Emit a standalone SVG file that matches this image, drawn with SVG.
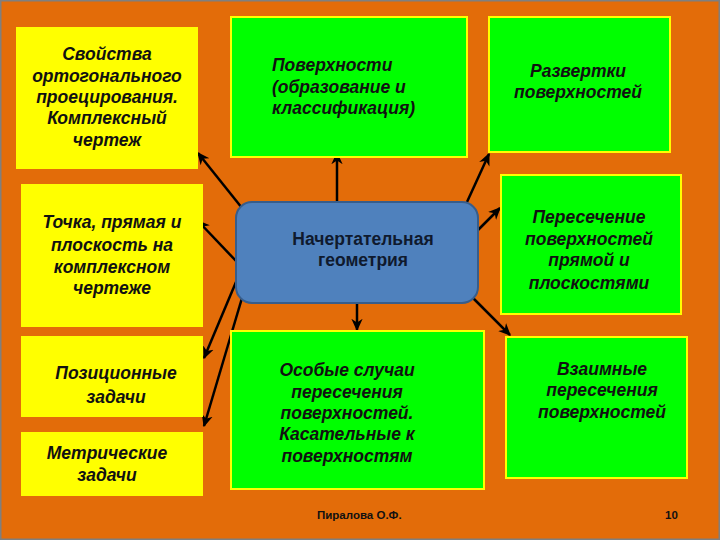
<svg xmlns="http://www.w3.org/2000/svg" width="720" height="540" viewBox="0 0 720 540">
<defs>
<marker id="ah" viewBox="0 0 10 10" refX="9" refY="5" markerWidth="5" markerHeight="5" orient="auto" markerUnits="strokeWidth">
<path d="M0,0.5 L10,5 L0,9.5 L3,5 Z" fill="#000"/>
</marker>
<style>
.y{fill:#FFFF00}
.g{fill:#00FF00;stroke:#FFFF00;stroke-width:2}
.t{font-family:"Liberation Sans",Arial,sans-serif;font-weight:bold;font-style:italic;font-size:17.5px;fill:#111;text-anchor:middle}
.ts{text-anchor:start}
.c{font-family:"Liberation Sans",Arial,sans-serif;font-weight:bold;font-size:17.5px;fill:#0f1a2e;text-anchor:middle}
.f{font-family:"Liberation Sans",Arial,sans-serif;font-weight:bold;font-size:11.5px;fill:#111}
.a{stroke:#000;stroke-width:2.5;fill:none;marker-end:url(#ah)}
</style>
</defs>
<rect x="0" y="0" width="720" height="540" fill="#E36C09"/>
<rect x="0.75" y="0.75" width="718.5" height="538.5" fill="none" stroke="#7f7f7f" stroke-width="1.5"/>

<g id="connectors">
<line class="a" x1="242" y1="208" x2="198" y2="153"/>
<line class="a" x1="237" y1="262" x2="198" y2="221"/>
<line class="a" x1="236" y1="282" x2="204" y2="358"/>
<line class="a" x1="242" y1="298" x2="204" y2="426"/>
<line class="a" x1="337" y1="202" x2="337" y2="153"/>
<line class="a" x1="467" y1="202" x2="489" y2="154"/>
<line class="a" x1="478" y1="230" x2="500" y2="208"/>
<line class="a" x1="357" y1="304" x2="357" y2="330"/>
<line class="a" x1="473" y1="298" x2="510" y2="335"/>
</g>

<g id="n1">
<rect class="y" x="16" y="27" width="182" height="142"/>
<text class="t" x="107" y="60">Свойства</text>
<text class="t" x="107" y="82">ортогонального</text>
<text class="t" x="107" y="103">проецирования.</text>
<text class="t" x="107" y="124">Комплексный</text>
<text class="t" x="107" y="146">чертеж</text>
</g>
<g id="n2">
<rect class="y" x="21" y="184" width="182" height="143"/>
<text class="t" x="112" y="228">Точка, прямая и</text>
<text class="t" x="112" y="251">плоскость на</text>
<text class="t" x="112" y="273">комплексном</text>
<text class="t" x="112" y="294">чертеже</text>
</g>
<g id="n3">
<rect class="y" x="21" y="336" width="182" height="81"/>
<text class="t" x="116" y="379">Позиционные</text>
<text class="t" x="116" y="403">задачи</text>
</g>
<g id="n4">
<rect class="y" x="21" y="432" width="182" height="64"/>
<text class="t" x="107" y="459">Метрические</text>
<text class="t" x="107" y="481">задачи</text>
</g>
<g id="n5">
<rect class="g" x="231" y="17" width="236" height="140"/>
<text class="t ts" x="272" y="71">Поверхности</text>
<text class="t ts" x="272" y="93">(образование и</text>
<text class="t ts" x="272" y="114">классификация)</text>
</g>
<g id="n6">
<rect class="g" x="489" y="17" width="181" height="135"/>
<text class="t" x="578" y="77">Развертки</text>
<text class="t" x="578" y="98">поверхностей</text>
</g>
<g id="n7">
<rect class="g" x="501" y="175" width="180" height="139"/>
<text class="t" x="589" y="223">Пересечение</text>
<text class="t" x="589" y="245">поверхностей</text>
<text class="t" x="589" y="266">прямой и</text>
<text class="t" x="589" y="289">плоскостями</text>
</g>
<g id="n8">
<rect class="g" x="231" y="331" width="253" height="158"/>
<text class="t" x="347" y="376">Особые случаи</text>
<text class="t" x="347" y="398">пересечения</text>
<text class="t" x="347" y="419">поверхностей.</text>
<text class="t" x="347" y="440">Касательные к</text>
<text class="t" x="347" y="462">поверхностям</text>
</g>
<g id="n9">
<rect class="g" x="506" y="337" width="181" height="141"/>
<text class="t" x="602" y="375">Взаимные</text>
<text class="t" x="602" y="396">пересечения</text>
<text class="t" x="602" y="418">поверхностей</text>
</g>
<g id="center">
<rect x="236" y="202" width="242" height="101" rx="16" ry="16" fill="#4F81BD" stroke="#385D8A" stroke-width="2"/>
<text class="c" x="363" y="245">Начертательная</text>
<text class="c" x="363" y="266">геометрия</text>
</g>
<text class="f" x="317" y="519">Пиралова О.Ф.</text>
<text class="f" x="665" y="519">10</text>
</svg>
